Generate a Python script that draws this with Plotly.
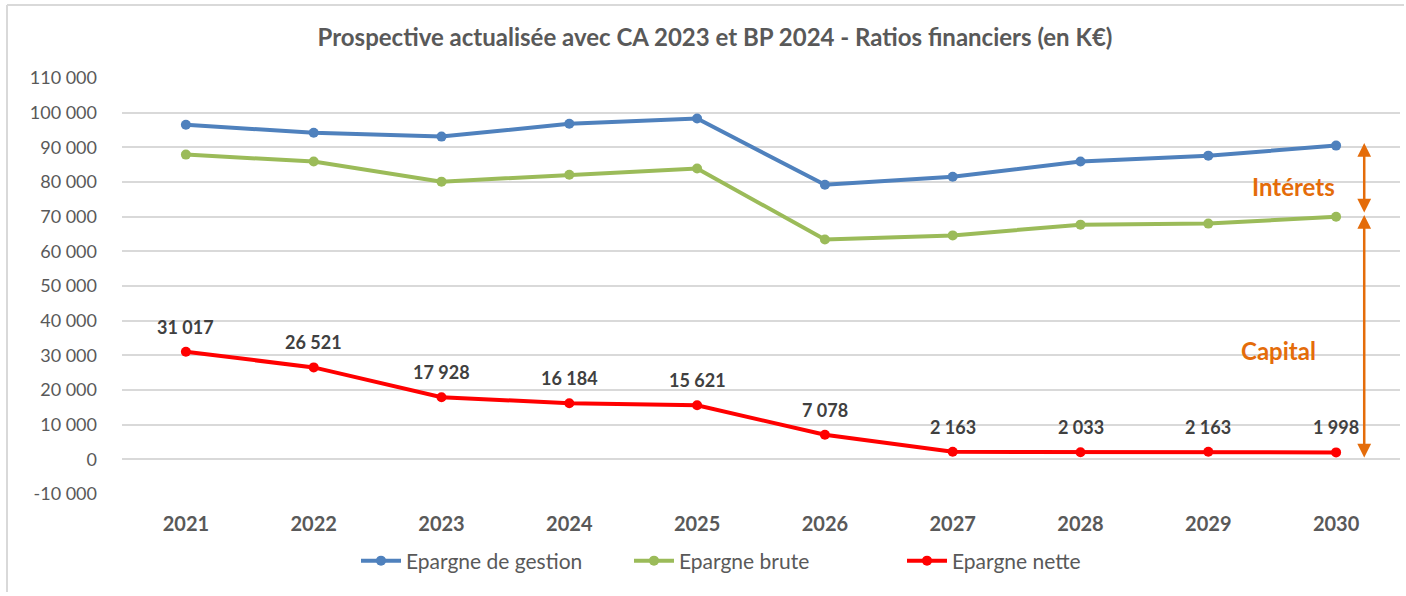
import plotly.graph_objects as go

years = ["2021", "2022", "2023", "2024", "2025", "2026", "2027", "2028", "2029", "2030"]
epargne_gestion = [96500, 94200, 93100, 96800, 98300, 79200, 81500, 85900, 87600, 90500]
epargne_brute = [87900, 85900, 80100, 82100, 83900, 63400, 64600, 67700, 68000, 70000]
epargne_nette = [31017, 26521, 17928, 16184, 15621, 7078, 2163, 2033, 2163, 1998]
y_ticks = list(range(-10000, 110001, 10000))

W, H = 1406, 596
ML, MR, MT, MB = 122, 6, 78, 102
FONT = "Lato"
ORANGE = "#E46C0A"
GRAY = "#595959"

def fmt(v):
    return f"{v:,}".replace(",", " ")

fig = go.Figure()
fig.add_trace(go.Scatter(x=years, y=epargne_gestion, name="Epargne de gestion", mode="lines+markers",
                         line=dict(color="#4F81BD", width=4), marker=dict(size=10, color="#4F81BD")))
fig.add_trace(go.Scatter(x=years, y=epargne_brute, name="Epargne brute", mode="lines+markers",
                         line=dict(color="#9BBB59", width=4), marker=dict(size=10, color="#9BBB59")))
fig.add_trace(go.Scatter(x=years, y=epargne_nette, name="Epargne nette", mode="lines+markers",
                         line=dict(color="#FF0000", width=4), marker=dict(size=10, color="#FF0000")))

annotations = []
for i, v in enumerate(epargne_nette):
    annotations.append(dict(x=i, y=v, xref="x", yref="y", text=f"<b>{fmt(v)}</b>", showarrow=False,
                            yshift=25, font=dict(family=FONT, size=18, color="#404040")))

ax_pos = 9.22
annotations.append(dict(x=ax_pos, y=epargne_brute[-1] + 1200, xref="x", yref="y",
                        ax=ax_pos, ay=epargne_gestion[-1] + 1200, axref="x", ayref="y",
                        showarrow=True, arrowhead=2, startarrowhead=2, arrowside="end+start",
                        arrowsize=1.1, startarrowsize=1.1, arrowwidth=2.5, arrowcolor=ORANGE, text=""))
annotations.append(dict(x=ax_pos, y=epargne_nette[-1] - 1500, xref="x", yref="y",
                        ax=ax_pos, ay=epargne_brute[-1] + 900, axref="x", ayref="y",
                        showarrow=True, arrowhead=2, startarrowhead=2, arrowside="end+start",
                        arrowsize=1.1, startarrowsize=1.1, arrowwidth=2.5, arrowcolor=ORANGE, text=""))
annotations.append(dict(x=8.67, y=78800, xref="x", yref="y", text="<b>Intérets</b>", showarrow=False,
                        font=dict(family=FONT, size=24, color=ORANGE)))
annotations.append(dict(x=8.55, y=31500, xref="x", yref="y", text="<b>Capital</b>", showarrow=False,
                        font=dict(family=FONT, size=24, color=ORANGE)))

pw = W - ML - MR
ph = H - MT - MB
x_left = (7 - ML) / pw
y_top = (H - MB - 5) / ph
shapes = [
    dict(type="line", xref="paper", yref="paper", x0=x_left, x1=(W - 2 - ML) / pw, y0=y_top, y1=y_top,
         line=dict(color="#D9D9D9", width=2)),
    dict(type="line", xref="paper", yref="paper", x0=x_left, x1=x_left, y0=y_top, y1=(H - MB - 592) / ph,
         line=dict(color="#D9D9D9", width=2)),
]

fig.update_layout(
    width=W, height=H,
    margin=dict(l=ML, r=MR, t=MT, b=MB),
    paper_bgcolor="white", plot_bgcolor="white",
    separators=". ",
    title=dict(text="<b>Prospective actualisée avec CA 2023 et BP 2024 - Ratios financiers (en K€)</b>",
               x=(715 - ML) / pw, xref="paper", xanchor="center", y=1 - 38 / H, yanchor="middle",
               font=dict(family=FONT, size=24, color=GRAY)),
    font=dict(family=FONT, color=GRAY),
    legend=dict(orientation="h", x=(356 - ML) / pw, xanchor="left", xref="paper",
                y=(H - MB - 561) / ph, yanchor="middle",
                font=dict(family=FONT, size=21, color=GRAY), itemwidth=40, entrywidth=218,
                entrywidthmode="pixels", tracegroupgap=0),
    annotations=annotations,
    shapes=shapes,
    showlegend=True,
)
fig.update_xaxes(type="category", range=[-0.5, 9.5], showgrid=False, showline=False, ticks="",
                 tickfont=dict(family=FONT, size=20, color=GRAY, weight="bold"), ticklabelstandoff=16)
fig.update_yaxes(range=[-10000, 110000], tickvals=y_ticks, ticktext=[fmt(t) for t in y_ticks],
                 showgrid=True, gridcolor="#D9D9D9", gridwidth=1.5, zeroline=False, showline=False,
                 tickfont=dict(family=FONT, size=18, color=GRAY), ticklabelstandoff=24)

fig.write_html("out.html", config={"displayModeBar": False},
               post_script="document.body.style.margin='0px';")
